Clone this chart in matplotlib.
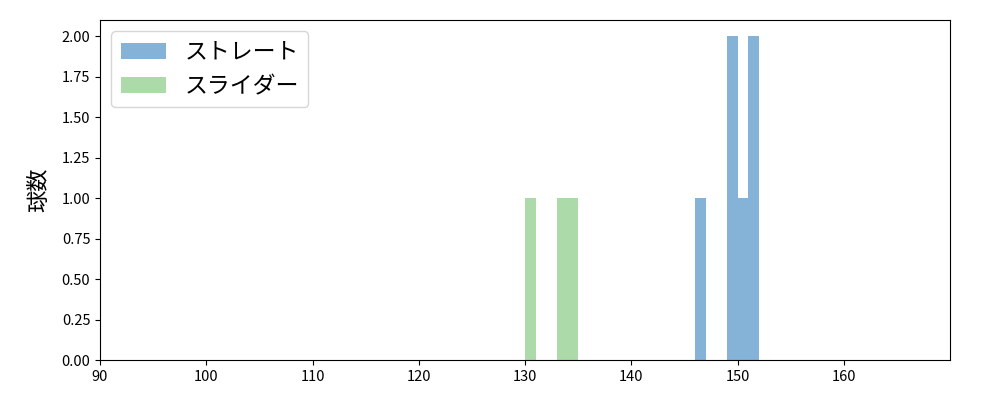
import matplotlib
matplotlib.use("Agg")
import matplotlib.pyplot as plt
import numpy as np

plt.rcParams['font.family'] = ['Noto Sans CJK JP', 'DejaVu Sans']

straight_speeds = [146, 149, 149, 150, 151, 151]
slider_speeds = [130, 133, 134]
labels = ['ストレート', 'スライダー']
colors = ['#84b3d7', '#addaa9']
bins = np.arange(90, 171, 1)

fig = plt.figure(figsize=(10, 4), dpi=100)
ax = fig.add_axes([0.1, 0.1, 0.85, 0.85])
ax.hist(straight_speeds, bins=bins, color=colors[0], label=labels[0])
ax.hist(slider_speeds, bins=bins, color=colors[1], label=labels[1])
ax.set_xlim(90, 170)
ax.set_xticks(np.arange(90, 161, 10))
ax.set_ylim(0, 2.1)
ax.set_yticks(np.arange(0, 2.01, 0.25))
ax.yaxis.set_major_formatter(matplotlib.ticker.FormatStrFormatter('%.2f'))
ax.tick_params(labelsize=10.5)
ax.set_ylabel('球数', fontsize=16, labelpad=8)
ax.legend(loc='upper left', fontsize=16.5)
fig.savefig('out.png')
